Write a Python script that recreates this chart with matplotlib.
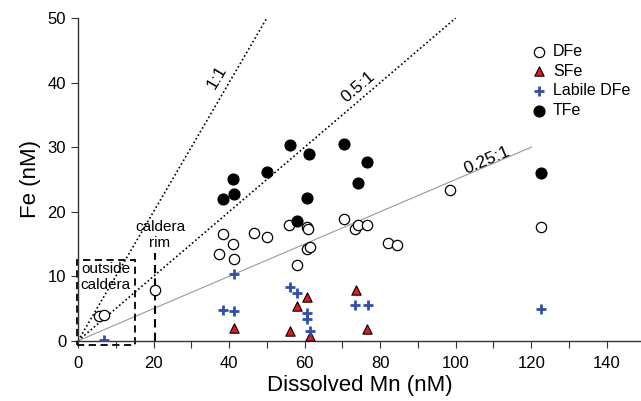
import matplotlib
matplotlib.use('Agg')
import matplotlib.pyplot as plt
from matplotlib.patches import Rectangle

plt.rcParams['font.family'] = ['Liberation Sans', 'DejaVu Sans']

# --- data ---
dfe_mn = [5.5, 6.9, 20.3, 37.4, 38.5, 41.1, 41.4, 46.7, 50.1, 55.9, 58.0, 60.5,
          60.8, 60.5, 61.3, 70.5, 73.4, 74.2, 76.6, 82.0, 84.5, 98.6, 122.5]
dfe_fe = [3.8, 4.0, 7.8, 13.4, 16.6, 15.0, 12.7, 16.7, 16.1, 18.0, 11.8, 17.6,
          17.3, 14.3, 14.6, 18.8, 17.3, 18.0, 17.9, 15.2, 14.8, 23.3, 17.6]

sfe_mn = [41.4, 56.1, 57.9, 60.5, 61.3, 73.5, 76.6]
sfe_fe = [2.0, 1.6, 5.4, 6.8, 0.7, 7.8, 1.9]

lab_mn = [6.8, 38.5, 41.2, 41.3, 56.0, 58.0, 60.5, 60.5, 61.3, 73.4, 76.7, 122.5]
lab_fe = [0.2, 4.8, 4.65, 10.4, 8.3, 7.45, 4.35, 3.4, 1.5, 5.6, 5.5, 4.9]

tfe_mn = [38.5, 41.3, 41.0, 50.1, 56.1, 58.0, 60.5, 61.2, 70.5, 74.2, 76.6, 122.5]
tfe_fe = [22.0, 22.7, 25.0, 26.1, 30.3, 18.6, 22.1, 29.0, 30.5, 24.5, 27.7, 26.0]

ratios = [1.0, 0.5, 0.25]
ratio_xmax = [50, 100, 120]
ratio_labels = ['1:1', '0.5:1', '0.25:1']

fig = plt.figure(figsize=(6.41, 4.01), dpi=100)
ax = fig.add_axes([0.1217, 0.150, 0.878, 0.805])

# ratio lines
for r, xm in zip(ratios, ratio_xmax):
    if r == 0.25:
        ax.plot([0, xm], [0, r * xm], color='#999999', lw=0.8, zorder=1)
    else:
        ax.plot([0, xm], [0, r * xm], color='black', lw=1.2, ls=(0, (1, 1.5)), zorder=1)

ax.text(36.8, 40.9, ratio_labels[0], rotation=59.6, ha='center', va='center', fontsize=12.5)
ax.text(74.1, 39.3, ratio_labels[1], rotation=40.5, ha='center', va='center', fontsize=12.5)
ax.text(108.2, 28.0, ratio_labels[2], rotation=23.1, ha='center', va='center', fontsize=12.5)

# caldera annotations
ax.add_patch(Rectangle((-0.2, -0.7), 15.3, 13.3, fill=False, ls=(0, (4, 2.5)),
                       lw=1.3, edgecolor='black', clip_on=False, zorder=2))
ax.plot([20.4, 20.4], [0, 13.6], color='black', lw=1.5, ls=(0, (4, 2.5)), zorder=2)
ax.text(7.3, 9.9, 'outside\ncaldera', ha='center', va='center', fontsize=11, linespacing=1.25)
ax.text(21.7, 16.4, 'caldera\nrim', ha='center', va='center', fontsize=11, linespacing=1.25)

# data
ax.scatter(dfe_mn, dfe_fe, s=55, facecolors='white', edgecolors='black', linewidths=0.9,
           label='DFe', zorder=3)
ax.scatter(sfe_mn, sfe_fe, s=45, marker='^', facecolors='#e31a1c', edgecolors='black',
           linewidths=0.8, label='SFe', zorder=4)
ax.scatter(lab_mn, lab_fe, s=60, marker='+', color='#2f4fb0', linewidths=2.0,
           label='Labile DFe', zorder=5)
ax.scatter(tfe_mn, tfe_fe, s=60, color='black', label='TFe', zorder=3)

ax.set_xlim(0, 149)
ax.set_ylim(0, 50)
ax.set_xticks(range(0, 141, 20))
ax.set_xticks(range(10, 150, 20), minor=True)
ax.set_yticks(range(0, 51, 10))
ax.tick_params(axis='both', which='both', direction='out', length=5, width=0.8,
               labelsize=12, colors='#333333', labelcolor='black')
ax.tick_params(axis='x', pad=6)
ax.spines['top'].set_visible(False)
ax.spines['right'].set_visible(False)
for s in ['left', 'bottom']:
    ax.spines[s].set_color('#333333')
    ax.spines[s].set_linewidth(1.0)

ax.set_xlabel('Dissolved Mn (nM)', fontsize=16, labelpad=3)
ax.set_ylabel('Fe (nM)', fontsize=16, labelpad=5)

ax.legend(loc='upper left', bbox_to_anchor=(0.79, 0.94), frameon=False, fontsize=11.5,
          handletextpad=0.3, labelspacing=0.3, borderaxespad=0, handlelength=1.2,
          scatterpoints=1)

fig.savefig('out.png', dpi=100)
